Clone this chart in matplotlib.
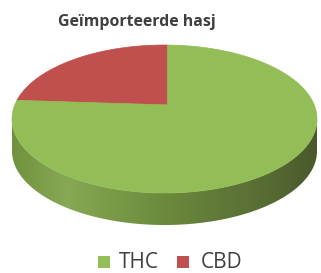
import numpy as np
import matplotlib
matplotlib.use("Agg")
import matplotlib.pyplot as plt
from matplotlib.patches import Polygon, Rectangle
from matplotlib.colors import LinearSegmentedColormap

# data
labels = ["THC", "CBD"]
values = [76, 24]
colors = ["#93bd56", "#c0504d"]
title = "Geïmporteerde hasj"

W, H = 321, 273
cx, cy, a, b = 164.5, 119.0, 152.5, 74.0   # top face ellipse (pixels)
vx, vy = 0.02, 0.19                         # apparent pie centre, normalised
depth = 32.0

fig = plt.figure(figsize=(W / 100, H / 100), dpi=100)
ax = fig.add_axes([0, 0, 1, 1])
ax.set_xlim(0, W)
ax.set_ylim(H, 0)
ax.axis("off")


def to_px(u, v):
    return cx + a * u, cy - b * v


def ray_point(theta):
    # point where a ray from the apparent centre hits the rim
    d = np.array([np.cos(theta), np.sin(theta)])
    p = np.array([vx, vy])
    pd = p @ d
    s = -pd + np.sqrt(pd ** 2 - (p @ p - 1))
    return p + s * d


# side wall with gradient
t = np.linspace(np.pi, 2 * np.pi, 200)
top_x, top_y = to_px(np.cos(t), np.sin(t))
side = np.vstack([np.column_stack([top_x, top_y]),
                  np.column_stack([top_x[::-1], top_y[::-1] + depth])])
side_patch = Polygon(side, closed=True, facecolor="none", edgecolor="none")
ax.add_patch(side_patch)
cmap = LinearSegmentedColormap.from_list(
    "side", [(0, "#71913f"), (0.18, "#87a854"), (0.5, "#6c8a3c"),
             (0.85, "#566a33"), (1, "#4a592c")])
grad = np.linspace(0, 1, 256).reshape(1, -1)
im = ax.imshow(grad, cmap=cmap, aspect="auto",
               extent=(cx - a, cx + a, cy + b + depth + 2, cy - 2), zorder=1)
im.set_clip_path(side_patch)

# top face slices, starting at 12 o'clock, counter-clockwise for CBD
start = np.pi / 2
fracs = np.array(values[::-1], dtype=float) / sum(values)
slice_cols = colors[::-1]
for frac, col in zip(fracs, slice_cols):
    end = start + frac * 2 * np.pi
    th = np.linspace(start, end, 200)
    pts = np.array([ray_point(x) for x in th])
    px, py = to_px(pts[:, 0], pts[:, 1])
    cxp, cyp = to_px(vx, vy)
    poly = np.vstack([[cxp, cyp], np.column_stack([px, py])])
    ax.add_patch(Polygon(poly, closed=True, facecolor=col,
                         edgecolor=col, linewidth=0.5, zorder=2))
    start = end

ax.text(58, 26, title, fontsize=11.4, fontweight="bold", color="#3f3f3f",
        family="Open Sans", va="baseline", ha="left")

# legend
sq_x = [98, 177]
txt_x = [119, 201]
for x0, tx, lab, col in zip(sq_x, txt_x, labels, colors):
    ax.add_patch(Rectangle((x0, 256), 12, 12, facecolor=col, edgecolor="none"))
    ax.text(tx, 268, lab, fontsize=15, color="#404040",
            family="Open Sans", va="baseline", ha="left")

fig.savefig("out.png", dpi=100)
